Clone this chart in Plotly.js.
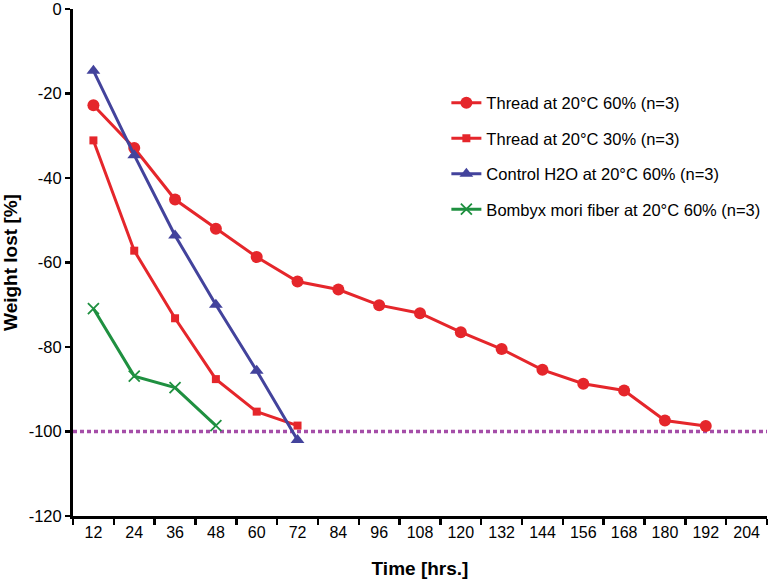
<!DOCTYPE html>
<html>
<head>
<meta charset="utf-8">
<script src="https://cdn.plot.ly/plotly-3.0.1.min.js"></script>
<style>
  html, body { margin: 0; padding: 0; background: #fff; }
  #chart { width: 769px; height: 581px; }
</style>
</head>
<body>
<div id="chart"></div>
<script>
// Time categories (hours)
const timeTicks = [12, 24, 36, 48, 60, 72, 84, 96, 108, 120, 132, 144, 156, 168, 180, 192, 204];

// Y tick values and labels (hyphen minus, as in the reference)
const yTickValues = [-120, -100, -80, -60, -40, -20, 0];
const yTickLabels = ['-120', '-100', '-80', '-60', '-40', '-20', '0'];

// Series: weight lost [%]
const thread60Times = [12, 24, 36, 48, 60, 72, 84, 96, 108, 120, 132, 144, 156, 168, 180, 192];
const thread60Values = [-22.8, -32.9, -45.1, -52.0, -58.7, -64.5, -66.4, -70.1, -72.0, -76.5, -80.5, -85.4, -88.7, -90.3, -97.4, -98.7];

const thread30Times = [12, 24, 36, 48, 60, 72];
const thread30Values = [-31.1, -57.2, -73.2, -87.6, -95.3, -98.6];

const controlTimes = [12, 24, 36, 48, 60, 72];
const controlValues = [-14.6, -34.6, -53.6, -70.0, -85.6, -102.0];

const bombyxTimes = [12, 24, 36, 48];
const bombyxValues = [-70.9, -86.9, -89.6, -98.6];

const referenceLevel = -100;

const cat = a => a.map(String);
const FONT = 'Arial, "Liberation Sans", sans-serif';

const traces = [
  {
    x: cat(thread60Times), y: thread60Values, name: 'Thread at 20°C 60% (n=3)',
    type: 'scatter', mode: 'lines+markers', legendgroup: 'a',
    line: { color: '#e5262b', width: 3 },
    marker: { symbol: 'circle', size: 12, color: '#e5262b' }
  },
  {
    x: cat(thread30Times), y: thread30Values, name: 'Thread at 20°C 30% (n=3)',
    type: 'scatter', mode: 'lines+markers', legendgroup: 'b',
    line: { color: '#e5262b', width: 3 },
    marker: { symbol: 'square', size: 8, color: '#e5262b' }
  },
  {
    x: cat(controlTimes), y: controlValues, name: 'Control H2O at 20°C 60% (n=3)',
    type: 'scatter', mode: 'lines+markers', legendgroup: 'c',
    line: { color: '#43439c', width: 3 },
    marker: { symbol: 'triangle-up', size: 12, color: '#43439c' }
  },
  {
    x: cat(bombyxTimes), y: bombyxValues, name: 'Bombyx mori fiber at 20°C 60% (n=3)',
    type: 'scatter', mode: 'lines+markers', legendgroup: 'd',
    line: { color: '#1f9040', width: 3 },
    marker: { symbol: 'x-thin-open', size: 11, color: '#1f9040', line: { color: '#1f9040', width: 1.8 } }
  }
];

const layout = {
  width: 769, height: 581,
  margin: { l: 73, r: 2, t: 9, b: 65 },
  paper_bgcolor: '#ffffff', plot_bgcolor: '#ffffff',
  font: { family: FONT, size: 16, color: '#000' },
  showlegend: true,
  legend: {
    x: 0.538, y: 0.849, xanchor: 'left', yanchor: 'top',
    font: { family: FONT, size: 16.5, color: '#000' },
    bgcolor: 'rgba(0,0,0,0)', borderwidth: 0,
    tracegroupgap: 11, itemwidth: 30
  },
  xaxis: {
    type: 'category',
    categoryorder: 'array', categoryarray: cat(timeTicks),
    tickvals: cat(timeTicks), ticktext: cat(timeTicks),
    range: [-0.5, timeTicks.length - 0.5],
    tickson: 'boundaries',
    ticks: 'outside', ticklen: 6, tickwidth: 2.5, tickcolor: '#000',
    showline: true, linewidth: 3, linecolor: '#000',
    showgrid: false, zeroline: false,
    tickfont: { family: FONT, size: 16, color: '#000' },
    title: { text: '<b>Time [hrs.]</b>', font: { family: FONT, size: 19, color: '#000' }, standoff: 22 }
  },
  yaxis: {
    range: [-120, 0],
    tickmode: 'array', tickvals: yTickValues, ticktext: yTickLabels,
    ticklabeloverflow: 'allow',
    ticks: 'outside', ticklen: 5, tickwidth: 2.5, tickcolor: '#000',
    showline: true, linewidth: 3, linecolor: '#000',
    showgrid: false, zeroline: false,
    tickfont: { family: FONT, size: 16.5, color: '#000' },
    title: { text: '<b>Weight lost [%]</b>', font: { family: FONT, size: 19, color: '#000' }, standoff: 8 }
  },
  shapes: [{
    type: 'line', xref: 'paper', yref: 'y',
    x0: 0, x1: 1, y0: referenceLevel, y1: referenceLevel,
    line: { color: '#a54ea8', width: 3.5, dash: '4px,3px' },
    layer: 'below'
  }]
};

Plotly.newPlot('chart', traces, layout, { displayModeBar: false, staticPlot: true });
</script>
</body>
</html>
